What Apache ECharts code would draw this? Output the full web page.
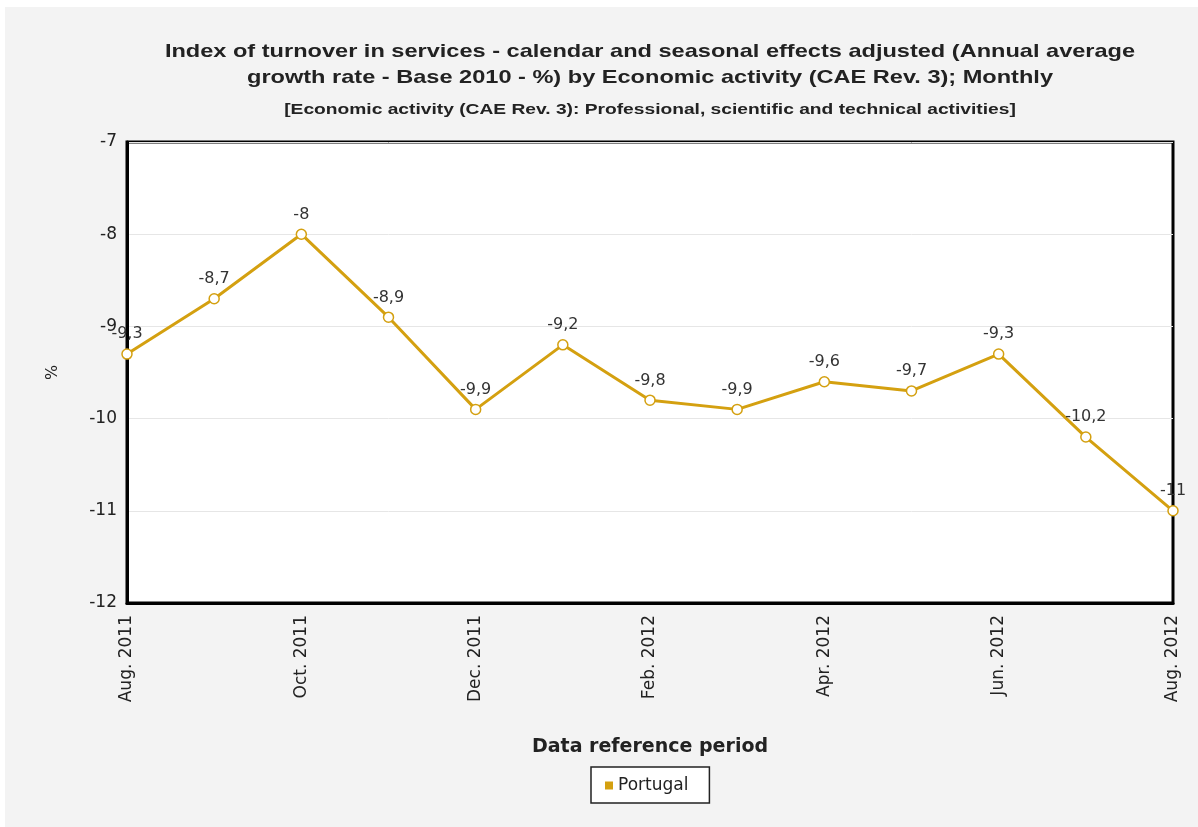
<!DOCTYPE html>
<html>
<head>
<meta charset="utf-8">
<script src="https://cdn.jsdelivr.net/npm/echarts@6/dist/echarts.min.js"></script>
<style>
html,body{margin:0;padding:0;background:#fff;width:1198px;height:827px;overflow:hidden;}
#bg{position:absolute;left:5px;top:7px;width:1193px;height:820px;background:#f3f3f3;}
#c{position:absolute;left:0;top:0;width:1198px;height:827px;}
</style>
</head>
<body>
<div id="bg"></div>
<div id="c"></div>
<script>
const titleLines = ['Index of turnover in services - calendar and seasonal effects adjusted (Annual average', 'growth rate - Base 2010 - %) by Economic activity (CAE Rev. 3); Monthly'];
const subtitle = '[Economic activity (CAE Rev. 3): Professional, scientific and technical activities]';
const categories = ['Aug. 2011','Sep. 2011','Oct. 2011','Nov. 2011','Dec. 2011','Jan. 2012','Feb. 2012','Mar. 2012','Apr. 2012','May. 2012','Jun. 2012','Jul. 2012','Aug. 2012'];
const portugal = [-9.3,-8.7,-8,-8.9,-9.9,-9.2,-9.8,-9.9,-9.6,-9.7,-9.3,-10.2,-11];
const seriesName = 'Portugal';
const gold = '#D4A010';
const LS = 'Liberation Sans, Arial, sans-serif';
const DV = 'DejaVu Sans, Verdana, sans-serif';

const chart = echarts.init(document.getElementById('c'));
chart.setOption({
  backgroundColor: 'transparent',
  animation: false,
  textStyle: {fontFamily: DV},
  graphic: [
    {type:'text', x:650, y:52, scaleX:1.24, style:{text:titleLines[0], align:'center', verticalAlign:'middle', font:'bold 19px ' + LS, fill:'#222'}},
    {type:'text', x:650, y:78, scaleX:1.24, style:{text:titleLines[1], align:'center', verticalAlign:'middle', font:'bold 19px ' + LS, fill:'#222'}},
    {type:'text', x:650, y:110, scaleX:1.28, style:{text:subtitle, align:'center', verticalAlign:'middle', font:'bold 15px ' + LS, fill:'#222'}}
  ],
  legend: {
    left: 591, top: 767,
    padding: [10, 21, 9, 14],
    borderColor: '#222', borderWidth: 1.5,
    backgroundColor: '#fff',
    icon: 'rect', itemWidth: 8, itemHeight: 8, itemGap: 6,
    textStyle: {fontSize: 17, color: '#222', fontFamily: DV},
    data: [{name: seriesName, itemStyle: {color: gold, borderWidth: 0}}]
  },
  grid: {
    left: 127, right: 25, top: 142, bottom: 224,
    show: true, backgroundColor: '#fff', borderColor: '#000', borderWidth: 3
  },
  xAxis: {
    type: 'category', data: categories, boundaryGap: false,
    name: 'Data reference period', nameLocation: 'middle', nameGap: 135,
    nameTextStyle: {fontSize: 19, fontWeight: 'bold', color: '#222', fontFamily: DV},
    axisLine: {lineStyle: {color: '#000', width: 3}},
    axisTick: {show: false},
    axisLabel: {rotate: 90, interval: 1, fontSize: 17, color: '#222', margin: 12, fontFamily: DV},
    splitLine: {show: false}
  },
  yAxis: {
    type: 'value', min: -12, max: -7, interval: 1,
    name: '%', nameLocation: 'middle', nameGap: 66, nameRotate: 90,
    nameTextStyle: {fontSize: 16, color: '#222'},
    axisLine: {show: true, lineStyle: {color: '#000', width: 3}},
    axisTick: {show: false},
    axisLabel: {fontSize: 17, color: '#222', margin: 10},
    splitLine: {lineStyle: {color: '#e6e6e6', width: 1}}
  },
  series: [{
    name: seriesName, type: 'line', data: portugal,
    lineStyle: {color: gold, width: 3},
    itemStyle: {color: '#fff', borderColor: gold, borderWidth: 1.5},
    symbol: 'circle', symbolSize: 10,
    label: {show: true, position: 'top', distance: 6, fontSize: 16, color: '#333',
      formatter: p => String(p.value).replace('.', ',')}
  }]
});
</script>
</body>
</html>
